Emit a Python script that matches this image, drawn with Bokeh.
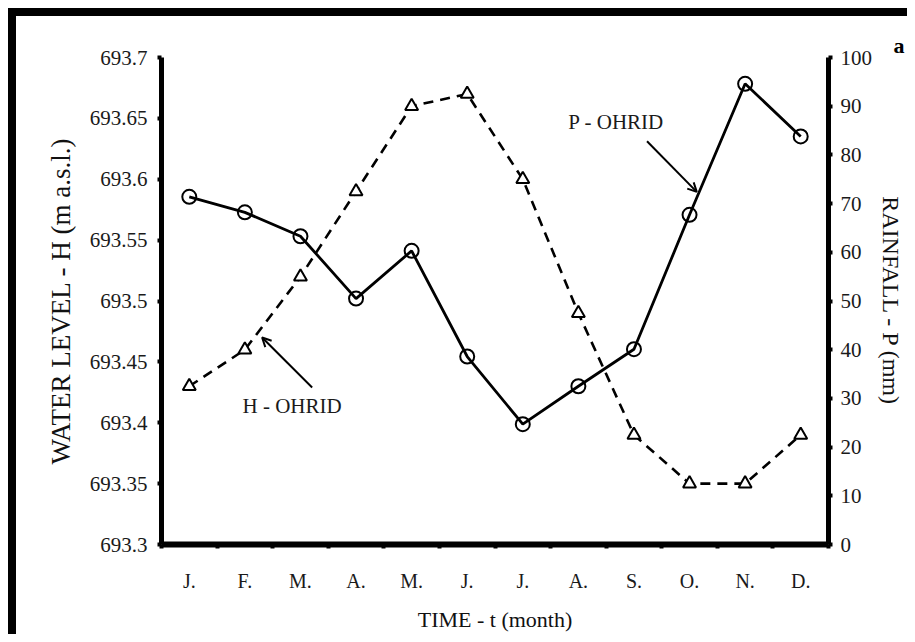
from bokeh.plotting import figure
from bokeh.layouts import column
from bokeh.models import Range1d, LinearAxis, FixedTicker, Arrow, OpenHead, Label
from bokeh.embed import file_html
from bokeh.resources import INLINE

# ---------------- data ----------------
months = ["J.", "F.", "M.", "A.", "M.", "J.", "J.", "A.", "S.", "O.", "N.", "D."]
water_level_h = [693.43, 693.46, 693.52, 693.59, 693.66, 693.67,
                 693.60, 693.49, 693.39, 693.35, 693.35, 693.39]
rainfall_p = [71.4, 68.2, 63.3, 50.5, 60.3, 38.6, 24.7, 32.5, 40.1, 67.7, 94.6, 83.8]
h_ticks = [693.3, 693.35, 693.4, 693.45, 693.5, 693.55, 693.6, 693.65, 693.7]
h_tick_labels = ["693.3", "693.35", "693.4", "693.45", "693.5", "693.55", "693.6", "693.65", "693.7"]
p_ticks = [0, 10, 20, 30, 40, 50, 60, 70, 80, 90, 100]

FONT = "Liberation Serif"
W, H = 891, 618

x_mid = [i + 0.5 for i in range(len(months))]
x_bounds = list(range(len(months) + 1))

p = figure(width=W, height=H, output_backend="svg", toolbar_location=None,
           title="a",
           x_range=Range1d(0, len(months)), y_range=Range1d(h_ticks[0], h_ticks[-1]),
           min_border_left=145, min_border_right=77, min_border_top=41,
           min_border_bottom=88)
p.extra_y_ranges = {"p": Range1d(p_ticks[0], p_ticks[-1])}
p.outline_line_color = None
p.xgrid.visible = False
p.ygrid.visible = False
p.background_fill_color = "white"
p.border_fill_color = "white"

# panel letter at the top right corner (title pushed past the frame's right edge)
p.title.align = "right"
p.title.offset = -76
p.title.text_font = FONT
p.title.text_font_style = "bold"
p.title.text_font_size = "22px"
p.title.text_color = "black"
p.title.standoff = 0

def style_axis(ax):
    ax.axis_line_width = 5
    ax.axis_line_color = "black"
    ax.major_tick_line_width = 4
    ax.major_tick_line_color = "black"
    ax.major_tick_out = 4
    ax.major_tick_in = 0
    ax.minor_tick_line_width = 4
    ax.minor_tick_line_color = "black"
    ax.minor_tick_out = 4
    ax.minor_tick_in = 0
    ax.major_label_text_font = FONT
    ax.major_label_text_font_size = "21px"
    ax.major_label_text_color = "#1a1a1a"
    ax.axis_label_text_font = FONT
    ax.axis_label_text_font_style = "normal"
    ax.axis_label_text_color = "#111111"

# bottom axis
xa = p.xaxis[0]
style_axis(xa)
xa.ticker = FixedTicker(ticks=x_mid, minor_ticks=x_bounds)
xa.major_label_overrides = {x: m for x, m in zip(x_mid, months)}
xa.major_tick_out = 0
xa.major_tick_line_width = 0
xa.major_label_text_font_size = "20px"
xa.major_label_standoff = 21
xa.axis_label = "TIME - t (month)"
xa.axis_label_text_font_size = "22px"
xa.axis_label_standoff = 12
xa.axis_line_width = 6

# left axis
ya = p.yaxis[0]
style_axis(ya)
ya.ticker = FixedTicker(ticks=h_ticks)
ya.major_label_overrides = {t: s for t, s in zip(h_ticks, h_tick_labels)}
ya.major_label_standoff = 10
ya.axis_label = "WATER LEVEL - H (m a.s.l.)"
ya.axis_label_text_font_size = "27px"
ya.axis_label_standoff = 11
ya.minor_tick_out = 0

# right axis
ra = LinearAxis(y_range_name="p")
style_axis(ra)
ra.ticker = FixedTicker(ticks=p_ticks)
ra.major_label_standoff = 8
ra.axis_label = "RAINFALL - P (mm)"
ra.axis_label_text_font_size = "24px"
ra.axis_label_standoff = 3
ra.minor_tick_out = 0
p.add_layout(ra, "right")

# series
p.line(x_mid, water_level_h, line_color="black", line_width=2.6, line_dash="10 7")
p.scatter(x_mid, water_level_h, marker="triangle", size=13, fill_color="white",
          line_color="black", line_width=2)
p.line(x_mid, rainfall_p, y_range_name="p", line_color="black", line_width=2.8)
p.scatter(x_mid, rainfall_p, y_range_name="p", marker="circle", size=14,
          fill_color=None, line_color="black", line_width=2)

# annotations
p.add_layout(Label(x=8.18, y=86.7, y_range_name="p", text="P - OHRID",
                   text_font=FONT, text_font_size="21px", text_color="#1a1a1a",
                   text_align="center", text_baseline="middle"))
p.add_layout(Arrow(x_start=8.735, y_start=82.8, x_end=9.63, y_end=72.4,
                   y_range_name="p", line_color="black", line_width=2,
                   end=OpenHead(size=9, line_width=2, line_color="black")))
p.add_layout(Label(x=2.35, y=693.414, text="H - OHRID",
                   text_font=FONT, text_font_size="21px", text_color="#1a1a1a",
                   text_align="center", text_baseline="middle"))
p.add_layout(Arrow(x_start=2.71, y_start=693.429, x_end=1.81, y_end=693.470,
                   line_color="black", line_width=2,
                   end=OpenHead(size=9, line_width=2, line_color="black")))

layout = column(p, styles={"border-left": "8px solid black",
                           "border-top": "8px solid black",
                           "margin-left": "8px", "margin-top": "8px"})

open("out.html", "w").write(file_html(layout, INLINE))
